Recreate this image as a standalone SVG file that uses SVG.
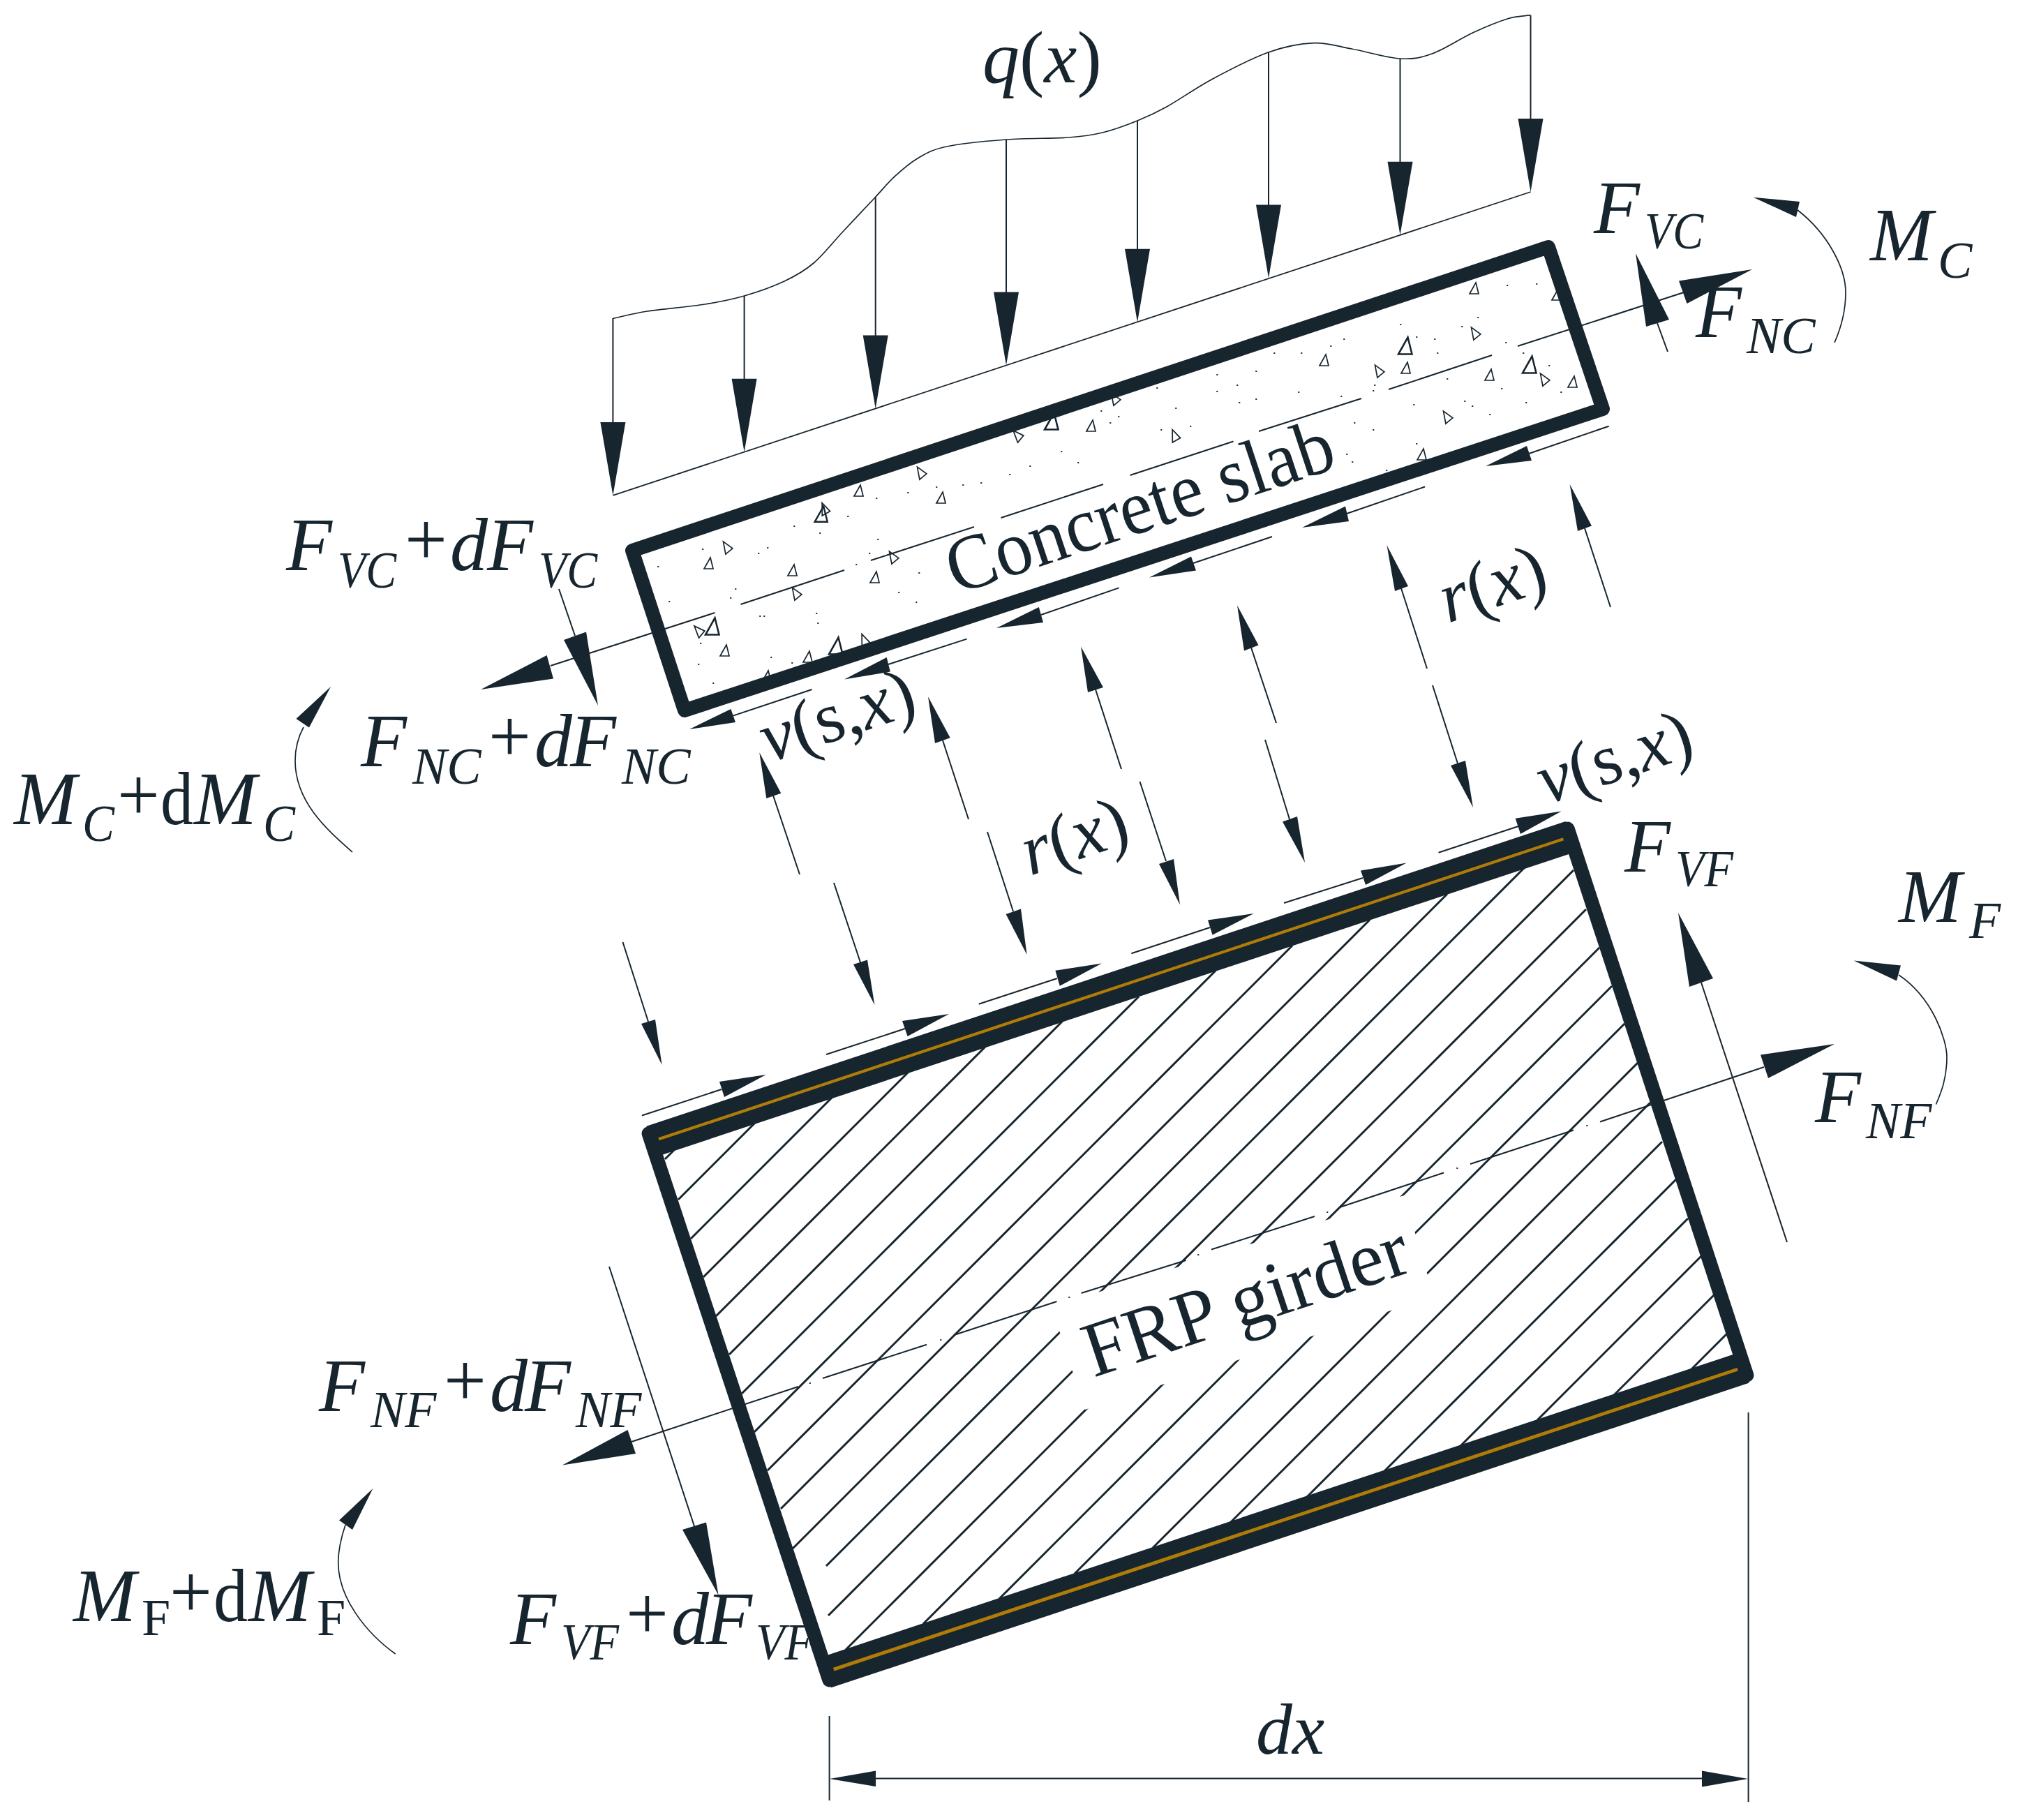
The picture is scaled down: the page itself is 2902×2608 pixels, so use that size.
<svg xmlns="http://www.w3.org/2000/svg" width="2902" height="2608" viewBox="0 0 2902 2608">
<style>
text{font-family:"Liberation Serif","Times New Roman",serif;fill:#17252f;font-size:108px;font-style:italic}
.s{font-size:74px}
.r{font-style:normal}
.l{fill:none;stroke:#17252f;stroke-width:2}
.th{fill:none;stroke:#17252f;stroke-width:1.7}
.h{fill:#17252f;stroke:none}
.hatch{fill:none;stroke:#17252f;stroke-width:3}
.wall{fill:none;stroke:#17252f;stroke-width:20;stroke-linejoin:round}
.chord{fill:none;stroke:#17252f;stroke-width:46}
.gold{fill:none;stroke:#b07c08;stroke-width:7}
.tri{fill:none;stroke:#17252f;stroke-width:1.7}
.dot{fill:none;stroke:#17252f;stroke-width:2;stroke-linecap:round}
</style>
<defs>
<path id="lh" d="M-18 -105H18L0 0Z"/>
<path id="t" d="M-6 7L7 7L3 -9Z"/>
</defs>
<rect width="2902" height="2608" fill="#fff"/>

<g id="labels">
<g id="l-fvc"><text><tspan x="2284" y="334">F</tspan><tspan class="s" x="2357" y="356" textLength="84" lengthAdjust="spacingAndGlyphs">VC</tspan></text></g>
<g id="l-mc"><text><tspan x="2680" y="373">M</tspan><tspan class="s" x="2777" y="398">C</tspan></text></g>
<g id="l-fnc"><text><tspan x="2430" y="483">F</tspan><tspan class="s" x="2503" y="506">NC</tspan></text></g>
<g id="l-q"><text style="font-size:106px" x="1408" y="118">q<tspan class="r">(</tspan>x<tspan class="r">)</tspan></text></g>
<g id="l-fvcd"><text><tspan x="410" y="817">F</tspan><tspan class="s" x="484" y="842" textLength="84" lengthAdjust="spacingAndGlyphs">VC</tspan><tspan class="r" x="580" y="809">+</tspan><tspan x="645" y="817">d</tspan><tspan x="698" y="817">F</tspan><tspan class="s" x="772" y="842" textLength="84" lengthAdjust="spacingAndGlyphs">VC</tspan></text></g>
<g id="l-fncd"><text><tspan x="517" y="1098">F</tspan><tspan class="s" x="591" y="1123">NC</tspan><tspan class="r" x="700" y="1091">+</tspan><tspan x="766" y="1098">d</tspan><tspan x="817" y="1098">F</tspan><tspan class="s" x="891" y="1123">NC</tspan></text></g>
<g id="l-mcd"><text><tspan x="20" y="1181">M</tspan><tspan class="s" x="118" y="1205" textLength="46" lengthAdjust="spacingAndGlyphs">C</tspan><tspan class="r" x="168" y="1175">+</tspan><tspan class="r" x="230" y="1181" textLength="47" lengthAdjust="spacingAndGlyphs">d</tspan><tspan x="278" y="1181">M</tspan><tspan class="s" x="377" y="1205" textLength="46" lengthAdjust="spacingAndGlyphs">C</tspan></text></g>
<g id="l-fvf"><text><tspan x="2328" y="1249">F</tspan><tspan class="s" x="2401" y="1270" textLength="83" lengthAdjust="spacingAndGlyphs">VF</tspan></text></g>
<g id="l-mf"><text><tspan x="2721" y="1321">M</tspan><tspan class="s" x="2822" y="1344">F</tspan></text></g>
<g id="l-fnf"><text><tspan x="2601" y="1608">F</tspan><tspan class="s" x="2674" y="1631">NF</tspan></text></g>
<g id="l-fnfd"><text><tspan x="457" y="2022">F</tspan><tspan class="s" x="531" y="2045">NF</tspan><tspan class="r" x="636" y="2014">+</tspan><tspan x="702" y="2022">d</tspan><tspan x="752" y="2022">F</tspan><tspan class="s" x="825" y="2045">NF</tspan></text></g>
<g id="l-mfd"><text><tspan x="105" y="2323">M</tspan><tspan class="s r" x="203" y="2343">F</tspan><tspan class="r" x="243" y="2317">+</tspan><tspan class="r" x="306" y="2323" textLength="49" lengthAdjust="spacingAndGlyphs">d</tspan><tspan x="356" y="2323">M</tspan><tspan class="s r" x="454" y="2343">F</tspan></text></g>
<g id="l-fvfd"><text><tspan x="731" y="2356">F</tspan><tspan class="s" x="804" y="2378" textLength="83" lengthAdjust="spacingAndGlyphs">VF</tspan><tspan class="r" x="897" y="2348">+</tspan><tspan x="962" y="2356">d</tspan><tspan x="1012" y="2356">F</tspan><tspan class="s" x="1083" y="2378" textLength="83" lengthAdjust="spacingAndGlyphs">VF</tspan></text></g>
<g id="l-dx"><text style="font-size:104px" x="1800" y="2513">dx</text></g>
<g id="l-r1"><text style="font-size:104px" transform="translate(2075 893) rotate(-18.4)">r<tspan class="r">(</tspan>x<tspan class="r">)</tspan></text></g>
<g id="l-r2"><text style="font-size:104px" transform="translate(1476 1255) rotate(-18.4)">r<tspan class="r">(</tspan>x<tspan class="r">)</tspan></text></g>
<g id="l-v1"><text style="font-size:104px" transform="translate(1102 1093) rotate(-18.4)">v<tspan class="r">(s,</tspan>x<tspan class="r">)</tspan></text></g>
<g id="l-v2"><text style="font-size:104px" transform="translate(2216 1153) rotate(-18.4)">v<tspan class="r">(s,</tspan>x<tspan class="r">)</tspan></text></g>
</g>

<g id="load">
<path class="th" d="M878.4 456.4C894.8 452.9 905.7 449.4 927.6 446C949.5 442.6 986.8 439.7 1010 436C1033.2 432.3 1047.6 429.5 1066.6 424C1085.6 418.5 1107.4 410.8 1124 403C1140.6 395.2 1152.2 388.7 1166 377C1179.8 365.3 1192.3 348.7 1207 333C1221.7 317.3 1241.5 296.3 1254 283C1266.5 269.7 1271.8 262.3 1282 253C1292.2 243.7 1302.6 234.2 1315 227C1327.4 219.8 1335.3 214.5 1356.5 210C1377.7 205.5 1413 202.2 1442 200C1471 197.8 1508 198.7 1531 197C1554 195.3 1563.5 194 1580 190C1596.5 186 1614.7 179.2 1630 173C1645.3 166.8 1654 163 1672 153C1690 143 1713.7 126 1738 113C1762.3 100 1793.4 83.6 1817.6 75C1841.8 66.4 1863.1 62.5 1883 61.7C1902.9 60.9 1916.4 66.3 1937 70C1957.6 73.7 1987.3 82.9 2006.6 84C2025.9 85.1 2035.6 82.9 2053 76.7C2070.4 70.5 2093 55 2111 46.7C2129 38.4 2147.2 30.9 2161 26.7C2174.8 22.5 2182.7 23.4 2193.5 21.7"/>
<path class="th" d="M878.4 709.9L2193.5 275"/>
<path class="l" d="M878.4 456V605M1066.6 424V543M1254.7 283V481M1442 200V419M1630 173V357M1818 75V294M2006.5 84V232M2193.5 22V170"/>
<g class="h">
<use href="#lh" x="878.4" y="709.9"/><use href="#lh" x="1066.6" y="647.7"/><use href="#lh" x="1254.7" y="585.5"/><use href="#lh" x="1442" y="523.4"/><use href="#lh" x="1630" y="461.7"/><use href="#lh" x="1818" y="398.5"/><use href="#lh" x="2006.5" y="336.7"/><use href="#lh" x="2193.5" y="275"/>
</g>
</g>

<g id="slab">
<path class="dot" d="M943 812h.5M959 862h.5M1004 922h.5M1001 952h.5M1022 979h.5M1007 787h.5M1089 883h.5M1095 883h.5M1170 879h.5M1172 893h.5M1105 942h.5M1054 844h.5M1047 857h.5M1135 950h.5M1087 793h.5M1100 785h.5M1061 747h.5M1138 754h.5M1176 709h.5M1175 764h.5M1215 740h.5M1256 714h.5M1258 773h.5M1317 821h.5M1288 849h.5M1313 863h.5M1227 809h.5M1246 793h.5M1301 706h.5M1342 698h.5M1380 695h.5M1406 692h.5M1447 680h.5M1476 668h.5M1545 663h.5M1521 647h.5M1591 606h.5M1603 597h.5M1578 589h.5M1658 556h.5M1685 585h.5M1706 611h.5M1776 577h.5M1744 537h.5M1664 616h.5M1744 561h.5M1773 552h.5M1800 532h.5M1826 506h.5M1865 506h.5M1926 486h.5M1907 496h.5M1861 562h.5M1800 572h.5M1922 568h.5M1941 606h.5M1968 616h.5M1930 651h.5M1938 662h.5M1987 674h.5M2030 636h.5M2026 580h.5M2099 575h.5M2110 582h.5M2152 557h.5M2187 577h.5M2135 594h.5M2056 486h.5M2060 506h.5M2007 465h.5M2030 483h.5M2095 468h.5M2118 455h.5M2160 409h.5M2202 407h.5M2158 491h.5M2220 524h.5M2183 506h.5M2237 562h.5M1968 560h.5M1970 552h.5M2074 543h.5"/>
<g class="tri">
<use href="#t" transform="translate(1040 785) rotate(-40)"/><use href="#t" transform="translate(1015 808)"/><use href="#t" transform="translate(1135 818)"/><use href="#t" transform="translate(1139 851) rotate(-40)"/><use href="#t" transform="translate(1020 899) scale(1.5)"/><use href="#t" transform="translate(1000 905) rotate(-50)"/><use href="#t" transform="translate(1038 933)"/><use href="#t" transform="translate(1157 942)"/><use href="#t" transform="translate(1197 927) scale(1.5)"/><use href="#t" transform="translate(1237 918) rotate(-30)"/><use href="#t" transform="translate(1098 970)"/><use href="#t" transform="translate(1278 799) rotate(-40)"/><use href="#t" transform="translate(1253 828)"/><use href="#t" transform="translate(1176 738) scale(1.4)"/><use href="#t" transform="translate(1180 730) rotate(-30)"/><use href="#t" transform="translate(1230 704)"/><use href="#t" transform="translate(1318 678) rotate(-40)"/><use href="#t" transform="translate(1348 714)"/><use href="#t" transform="translate(1457 625) rotate(-50)"/><use href="#t" transform="translate(1506 605) scale(1.5)"/><use href="#t" transform="translate(1563 611)"/><use href="#t" transform="translate(1596 572) rotate(-40)"/><use href="#t" transform="translate(1682 625) rotate(-30)"/><use href="#t" transform="translate(2112 414)"/><use href="#t" transform="translate(2230 423)"/><use href="#t" transform="translate(2112 478) rotate(-40)"/><use href="#t" transform="translate(2013 497) scale(1.5)"/><use href="#t" transform="translate(1974 532) rotate(-40)"/><use href="#t" transform="translate(2014 528)"/><use href="#t" transform="translate(1897 517)"/><use href="#t" transform="translate(2191 524) scale(1.5)"/><use href="#t" transform="translate(2211 544) rotate(-40)"/><use href="#t" transform="translate(2253 548)"/><use href="#t" transform="translate(2134 538)"/><use href="#t" transform="translate(2072 598) rotate(-40)"/><use href="#t" transform="translate(2037 652)"/>
</g>
<path class="wall" d="M906 789L2219 354L2297 586L981 1018Z"/>
<text style="font-size:112px;font-style:normal" textLength="579" lengthAdjust="spacingAndGlyphs" transform="translate(1370 852) rotate(-18.4)">Concrete slab</text>
</g>

<g id="girder">
<path class="hatch" d="M953 1661L973 1641M972 1719L1082 1609M990 1775L1192 1573M1008 1830L1302 1536M1026 1886L1412 1500M1045 1941L1522 1464M1063 1997L1632 1428M1081 2052L1742 1391M1100 2107L1852 1355M1119 2162L1963 1318M1136 2219L2074 1281M1184 2244L2185 1243M1187 2315L2255 1247M1212 2364L2273 1303M1323 2327L2292 1358M1432 2291L2310 1413M1540 2255L2328 1467M1652 2218L2347 1523M1763 2182L2365 1580M1873 2145L2382 1636M1984 2108L2402 1690M2091 2074L2419 1746M2203 2035L2438 1800M2312 2000L2457 1855M2422 1964L2475 1911"/>
<polygon points="1507,1873 2012,1713 2055,1858 1555,2020" fill="#fff"/>
<path class="chord" d="M933.7 1635.6L2250.8 1198.9M1184 2396.5L2499 1960"/>
<path class="gold" d="M943.5 1631L2240 1201M1195 2393L2491 1963"/>
<path class="wall" d="M929.6 1624.3L2246.7 1187.6L2503.4 1970.7L1188.3 2407.4Z"/>
<text style="font-size:112px;font-style:normal" textLength="484" lengthAdjust="spacingAndGlyphs" transform="translate(1567 1974) rotate(-18.4)">FRP girder</text>
</g>

<g id="connectors">
<path class="l" d="M789 954L1024.5 878M1061.5 866L1210 817M1248 803L1396 755M1434.5 742L1581 694M1619.5 681L1767.5 632.5M1804 618L1951 571M1990 558L2138 509M2175 496L2413 419"/>
<path class="l" d="M905 2066L1144 1987M1179 1975L1328 1926.7M1368 1912.7L1514.5 1865M1549.6 1853L1699.5 1806M1736 1790.5L1884 1743M1920 1730L2069 1680.5M2107 1668L2255 1619.5M2293 1607.5L2528 1529"/>
<path class="dot" d="M1160.6 1982h.5M1348 1920h.5M1532 1859h.5M1717 1798h.5M1902 1737h.5M2088 1674h.5M2274 1613h.5"/>
<path class="l" d="M2375 463L2390 504M801 844L824 911M2438 1408L2561 1780M873 1815L995 2187"/>
<path class="l" d="M1050.6 1025.6L1163.5 988M1273 952L1385.5 915.6M1492 881L1603.6 842.4M1710 807L1823 769M1930 736L2042 697.5M2191 650L2305.6 610.7"/>
<path class="l" d="M1034 1561L920 1598.5M1297 1474L1184 1511M1515 1402L1402.7 1438.8M1734 1329L1621.4 1366.3M1953 1258L1840 1294M2176 1184L2061.6 1221.7"/>
<path class="l" d="M892.5 1350L929 1464M1195 1265L1233 1379M1415 1192L1452 1306M1633.5 1120L1671 1234M1813 1060L1848 1174M2053 982L2089 1094M1108 1140L1146 1253M1351 1061L1388 1174M1570 988L1607 1102M1793 928L1829 1036M2008 843L2045 958M2271 757L2308 870"/>
<path class="th" d="M2629 491C2640 466 2645 440 2645 419C2645 385 2620 335 2576 301M505 1221C470 1190 423 1150 423 1090C423 1072 428 1055 435 1042M566.6 2370C525 2340 484.7 2290 484.7 2239C484.7 2220 489 2203 495 2185M2721 1397C2770 1430 2790 1490 2790 1515C2790 1545 2782 1565 2774.5 1582.5"/>
<path class="l" d="M1188.6 2459V2580M2505.6 2024V2582M1255 2548.6H2439"/>
<g class="h">
<polygon points="689,988 783.6,939 793,972.5"/><polygon points="2511,386 2406,402.5 2417.5,435"/>
<polygon points="2344,363 2359,468 2392,458"/><polygon points="857,1011 808,917 840,905.5"/>
<polygon points="806,2099.5 899.5,2049 911,2083"/><polygon points="2629,1496 2523,1511.6 2534,1545"/>
<polygon points="2405,1308 2421,1414 2455,1402"/><polygon points="1029.6,2285.7 978,2192 1012,2181.6"/>
<polygon points="988,1045 1047.4,1016 1054,1035"/><polygon points="1210,973.5 1270.7,942 1275.8,962.5"/><polygon points="1428,900 1488.8,870 1495,892"/><polygon points="1647,827.6 1707,797.4 1714,817.5"/><polygon points="1866,756 1928,725.5 1933,747"/><polygon points="2129,668 2188,639 2195,660"/>
<polygon points="1097.8,1540 1031,1550 1038,1572"/><polygon points="1360,1453 1293,1463 1300.6,1485"/><polygon points="1579,1380.6 1512.4,1390.8 1518.7,1412.8"/><polygon points="1796.8,1309 1731,1318.4 1737.5,1339.8"/><polygon points="2015.7,1236.6 1950,1247.5 1957,1268"/><polygon points="2237.6,1162.5 2171.7,1172.7 2179,1195"/>
<polygon points="948.6,1526 919,1467 939,1461"/><polygon points="1253.4,1440 1223,1382 1243,1375.5"/><polygon points="1471.6,1368 1441.6,1310 1463,1302.5"/><polygon points="1691,1296.4 1661,1238 1682,1231"/><polygon points="1870,1236 1838,1177.5 1859,1170"/><polygon points="2111,1157 2079,1097 2100,1090"/>
<polygon points="1088.3,1078.3 1098.3,1144 1119.3,1136.7"/><polygon points="1330,998.3 1340,1065 1361.7,1057.3"/><polygon points="1549,926.6 1559,992 1581,985"/><polygon points="1773,867.5 1783,932.6 1803.5,924.5"/><polygon points="1987.5,781.6 1999,847 2018,840"/><polygon points="2249.6,694 2261,761 2281,753.6"/>
<polygon points="2512.6,282.7 2579,289 2574,311"/><polygon points="474,984 424.4,1030 443,1042.5"/><polygon points="534.4,2133 486,2178.6 505,2192"/><polygon points="2656.7,1376.6 2724,1383.4 2718,1405.6"/>
<polygon points="1189,2549 1255,2537.5 1255,2560"/><polygon points="2505,2549 2439,2537.5 2439,2560.5"/>
</g>
</g>
</svg>
